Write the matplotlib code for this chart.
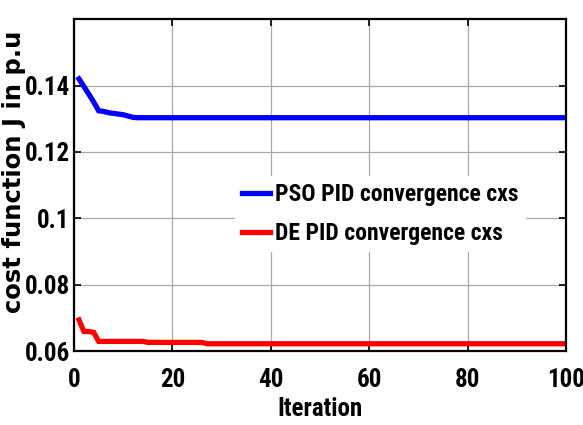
import numpy as np
import matplotlib
matplotlib.use("Agg")
import matplotlib.pyplot as plt

# convergence history of the cost function J (p.u) per iteration
iterations = np.arange(1, 101)

pso_head = [0.1420, 0.1397, 0.1374, 0.1350, 0.1324, 0.1322, 0.1318,
            0.1316, 0.1314, 0.1312, 0.1308, 0.1304]
pso_tail = 0.1303
pso_cost = pso_head + [pso_tail] * (100 - len(pso_head))

de_head = [0.0694, 0.0659, 0.0659, 0.0656, 0.0629]
de_mid = [0.0629] * 9 + [0.0626] * 12
de_tail = 0.0622
de_cost = de_head + de_mid + [de_tail] * (100 - len(de_head) - len(de_mid))

labels = ["PSO PID convergence cxs", "DE PID convergence cxs"]
xticks = [0, 20, 40, 60, 80, 100]
yticks = [0.06, 0.08, 0.1, 0.12, 0.14]
yticklabels = ["0.06", "0.08", "0.1", "0.12", "0.14"]

narrow = ["Roboto Condensed", "PT Sans Narrow", "Liberation Sans", "DejaVu Sans"]

fig = plt.figure(figsize=(5.83, 4.25), dpi=100)
ax = fig.add_axes([0.127, 0.174, 0.844, 0.781])

ax.plot(iterations, pso_cost, color="#0000ff", lw=3.8, label=labels[0],
        solid_joinstyle="miter")
ax.plot(iterations, de_cost, color="#ff0000", lw=3.8, label=labels[1],
        solid_joinstyle="miter")

ax.set_xlim(0, 100)
ax.set_ylim(0.06, 0.16)
ax.set_xticks(xticks)
ax.set_yticks(yticks)
ax.set_yticklabels(yticklabels)

ax.grid(True, color="#a8a8a8", lw=0.9, ls="-")
ax.set_axisbelow(True)
ax.tick_params(direction="in", length=5, width=1.2, top=True, right=True,
               labelsize=18, pad=3)
ax.tick_params(axis="x", pad=12)
for lab in ax.get_xticklabels() + ax.get_yticklabels():
    lab.set_family(narrow)
    lab.set_fontweight("bold")
for sp in ax.spines.values():
    sp.set_linewidth(1.6)
    sp.set_color("black")

ax.set_xlabel("Iteration", fontsize=18, fontweight="bold", family=narrow,
              labelpad=4)
ax.set_ylabel("cost function J in p.u", fontsize=17.5, fontweight="bold",
              family="DejaVu Sans")
ax.yaxis.set_label_coords(-0.097, 0.541)

leg = ax.legend(loc="upper left", bbox_to_anchor=(0.327, 0.527),
                frameon=True, fancybox=False, edgecolor="none",
                facecolor="white", framealpha=1.0,
                prop={"family": narrow, "weight": "bold", "size": 17},
                handlelength=1.2, handletextpad=0.2, labelspacing=0.66,
                borderpad=0.3, borderaxespad=0)
for h in leg.get_lines():
    h.set_linewidth(3.8)

fig.savefig("out.png", dpi=100)
